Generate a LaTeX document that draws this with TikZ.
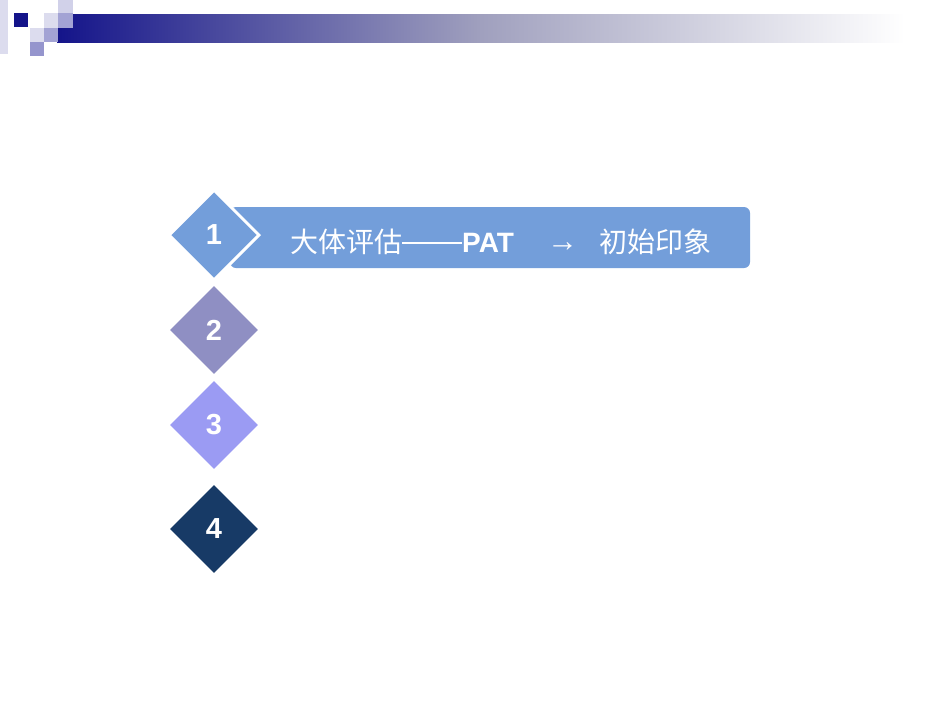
\documentclass[tikz,border=0pt]{standalone}
\usepackage{fontspec}
\setmainfont{Liberation Sans}
\newfontfamily\cjk{Noto Sans CJK SC}
\usetikzlibrary{shapes.geometric}

\definecolor{barblue}{HTML}{739EDA}
\definecolor{numtwo}{HTML}{8F8FC3}
\definecolor{numthree}{HTML}{9B9BF3}
\definecolor{numfour}{HTML}{173A66}
\definecolor{navy}{HTML}{14148A}
\definecolor{fade}{HTML}{A0A0BE}
\definecolor{pale}{HTML}{DCDCEE}
\definecolor{mid}{HTML}{A3A3D4}

\tikzset{
  num/.style={diamond, minimum width=88pt, minimum height=88pt, inner sep=0pt,
    text=white, font=\fontsize{29}{29}\selectfont\bfseries},
  tile/.style={fill=#1, draw=none},
}

\begin{document}
\begin{tikzpicture}[x=1pt,y=-1pt]
  \useasboundingbox (0,0) rectangle (950,713);

  % header
  \shade[left color=navy, right color=white, middle color=fade] (57,14) rectangle (905,42);
  \fill[tile=pale] (0,0) rectangle (8,54);
  \fill[tile=navy] (14,13) rectangle (28,27);
  \fill[tile=pale] (44,13) rectangle (58,28);
  \fill[tile=pale!80!mid] (58,0) rectangle (73,13);
  \fill[tile=mid] (58,13) rectangle (73,28);
  \fill[tile=pale] (30,28) rectangle (44,42);
  \fill[tile=mid] (44,28) rectangle (58,42);
  \fill[tile=mid!90!navy] (30,42) rectangle (44,56);

  % list
  \node[fill=barblue, rounded corners=6pt, minimum width=520pt, minimum height=61pt] (bar) at (490,237.5) {};
  \node[num, fill=barblue, draw=white, line width=3pt, minimum width=91pt, minimum height=91pt] (n1) at (214,235) {1};
  \node[num, fill=numtwo] (n2) at (214,330) {2};
  \node[num, fill=numthree] (n3) at (214,425) {3};
  \node[num, fill=numfour] (n4) at (214,529) {4};

  \node[anchor=west, text=white, inner sep=0pt, font=\fontsize{28}{28}\selectfont] (title) at (290,242)
    {{\cjk 大体评估}\rule[9pt]{60pt}{1.8pt}\textbf{PAT}\hspace{33pt}\raisebox{1pt}{\fontsize{31}{31}\selectfont →}\hspace{21pt}{\cjk 初始印象}};
\end{tikzpicture}
\end{document}
